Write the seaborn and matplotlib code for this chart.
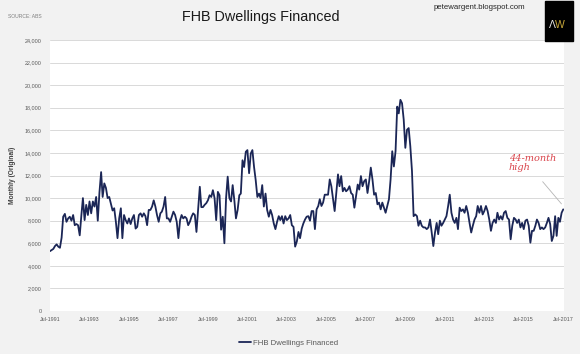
import numpy as np
import pandas as pd
import matplotlib
matplotlib.use("Agg")
import matplotlib.pyplot as plt
import matplotlib.dates as mdates
from matplotlib.patches import Rectangle
import seaborn as sns

# FHB dwellings financed, monthly (original), one row per Jul-Jun year
values_1990s = [
    [5300, 5400, 5500, 5750, 5900, 5700, 5600, 6500, 8350, 8600, 7900, 8200],      # Jul-1991
    [8350, 8000, 8500, 7600, 7700, 7600, 6700, 8500, 10000, 8050, 9400, 8500],     # Jul-1992
    [9700, 8650, 9700, 9250, 10100, 8000, 10500, 12300, 10100, 11300, 10900, 10000],
    [10100, 9500, 8900, 9100, 7900, 6450, 8200, 9100, 6450, 8500, 8050, 7750],
    [8200, 7700, 8200, 8500, 7300, 7450, 8500, 8650, 8350, 8650, 8400, 7600],
    [8950, 8950, 9250, 9800, 9250, 8500, 7900, 8650, 8800, 9250, 10100, 8200],
    [8200, 7900, 8350, 8800, 8500, 7900, 6450, 8050, 8500, 8200, 8350, 8200],
    [7600, 7900, 8350, 8650, 8500, 7000, 9000, 11000, 9200, 9200, 9400, 9550],
    [9800, 10250, 10100, 10700, 10000, 8050, 10550, 10250, 7200, 8350, 6000, 10000],
]
values_2000s = [
    [11900, 10000, 9700, 11150, 9800, 8200, 8950, 10250, 10400, 13350, 12750, 14100],  # Jul-2000
    [14250, 12200, 13950, 14250, 12750, 11600, 10100, 10400, 10000, 11150, 9250, 10400],
    [8950, 8350, 8950, 8500, 7750, 7250, 7900, 8400, 8050, 8400, 7750, 8400],
    [8050, 8200, 8500, 7600, 7450, 5700, 6150, 7000, 6450, 7300, 7750, 8100],
    [8350, 8400, 8000, 8850, 8850, 7250, 9000, 9300, 9900, 9300, 9600, 10300],
    [10300, 10300, 11650, 11050, 9900, 8850, 10450, 12100, 11050, 11950, 10600, 10900],
    [10600, 10750, 11050, 10450, 10300, 9150, 10200, 11200, 10750, 11950, 11050, 11500],
    [11650, 10450, 11500, 12700, 11650, 10300, 10450, 9450, 9600, 9000, 9600, 9150],
    [8700, 9300, 9900, 11650, 14150, 12800, 14150, 18100, 17500, 18700, 18400, 16950],
    [14450, 16050, 16200, 14600, 12400, 8400, 8550, 8400, 7550, 8000, 7550, 7400],
]
values_2010s = [
    [7400, 7250, 7400, 8100, 6950, 5750, 6950, 7800, 6800, 8000, 7550, 7800],      # Jul-2010
    [8100, 8400, 9300, 10300, 8700, 8100, 7800, 8250, 7250, 9150, 8850, 9000],
    [8700, 9300, 8700, 7800, 6950, 7550, 8100, 8400, 9300, 8700, 9300, 8550],
    [8850, 9300, 8850, 8100, 7100, 7800, 8100, 7800, 8700, 8100, 8400, 8100],
    [8700, 8850, 8250, 8100, 6350, 7550, 8250, 8100, 7800, 8100, 7400, 7800],
    [7250, 8000, 8100, 7550, 6050, 7100, 7100, 7550, 8100, 7800, 7250, 7400],
    [7250, 7400, 7800, 8250, 7700, 6200, 6650, 8400, 6650, 8250, 7900, 8700],
    [9000],                                                                       # Jul-2017
]

y_ticks = list(range(0, 24001, 2000))
x_tick_years = list(range(1991, 2018, 2))

series = [v for row in values_1990s + values_2000s + values_2010s for v in row]
months = pd.date_range("1991-07-01", periods=len(series), freq="MS")
df = pd.DataFrame({"month": months, "dwellings": series})

sns.set_theme(style="white")
plt.rcParams["font.family"] = ["Liberation Sans", "DejaVu Sans"]

fig = plt.figure(figsize=(5.8, 3.54), dpi=100, facecolor="#f2f2f2")
ax = fig.add_axes([50 / 580, 1 - 311 / 354, 514 / 580, 271 / 354])
ax.set_facecolor("white")

sns.lineplot(data=df, x="month", y="dwellings", ax=ax, color="#1b2656",
             linewidth=1.3, label="FHB Dwellings Financed")

ax.set_ylim(0, 24000)
ax.set_yticks(y_ticks)
ax.set_yticklabels([f"{t:,}" for t in y_ticks])
ax.set_xlim(pd.Timestamp("1991-07-01"), pd.Timestamp("2017-07-15"))
ax.set_xticks([pd.Timestamp(f"{y}-07-01") for y in x_tick_years])
ax.xaxis.set_major_formatter(mdates.DateFormatter("Jul-%Y"))
ax.yaxis.grid(True, color="#d9d9d9", linewidth=0.7)
ax.xaxis.grid(False)
for s in ax.spines.values():
    s.set_visible(False)
ax.tick_params(axis="both", length=0, labelsize=3.9, colors="#595959")
ax.tick_params(axis="y", pad=6)
ax.tick_params(axis="x", pad=4)
ax.set_xlabel("")
ax.set_ylabel("Monthly (Original)", fontsize=4.8, fontweight="bold",
              color="#404040", labelpad=6)

ax.legend(loc="center left", bbox_to_anchor=(232 / 580, 1 - 343 / 354),
          bbox_transform=fig.transFigure, frameon=False, fontsize=5.6,
          handlelength=1.6, handletextpad=0.2, labelcolor="#595959")

# annotation for the latest point
ax.text(0.893, 0.578, "44-month\nhigh", transform=ax.transAxes, fontsize=7,
        color="#d9434a", family="DejaVu Serif", style="italic",
        va="top", ha="left", linespacing=1.0)
ax.annotate("", xy=(df["month"].iloc[-1], df["dwellings"].iloc[-1] + 300),
            xytext=(0.955, 0.485), textcoords="axes fraction",
            arrowprops=dict(arrowstyle="-", color="#b5b5b5", lw=0.6))

fig.text(0.45, 0.952, "FHB Dwellings Financed", ha="center", va="center",
         fontsize=10.4, color="#1a1a1a")
fig.text(0.014, 0.952, "SOURCE: ABS", ha="left", va="center",
         fontsize=3.6, color="#7f7f7f")
fig.text(0.748, 0.978, "petewargent.blogspot.com", ha="left", va="center",
         fontsize=5.6, color="#262626")

# logo box
fig.add_artist(Rectangle((545 / 580, 1 - 41 / 354), 28 / 580, 40 / 354,
                         transform=fig.transFigure, color="black"))
fig.text(0.958, 0.928, "Λ", ha="right", va="center", fontsize=7.5, color="#e6e6e6")
fig.text(0.957, 0.928, "W", ha="left", va="center", fontsize=7.5, color="#c9a83a")

fig.savefig("out.png", dpi=100, facecolor=fig.get_facecolor())
